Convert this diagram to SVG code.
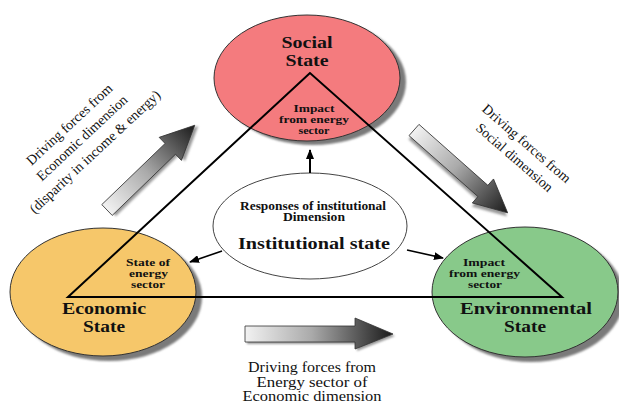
<svg xmlns="http://www.w3.org/2000/svg" width="619" height="405" viewBox="0 0 619 405">
<defs>
<style>
.sh{fill:#7a7a7a;filter:url(#blur)}
.st{stroke:#333;stroke-width:1}
.lbl{font-family:"Liberation Serif","Times New Roman",serif;font-weight:bold;fill:#111;text-anchor:middle}
.big{font-size:16px}
.sm{font-size:11px}
.drv{font-family:"Liberation Serif","Times New Roman",serif;font-size:14px;fill:#111;text-anchor:middle}
.conn{stroke:#000;stroke-width:2;fill:none}
.garrow{fill:url(#grad);stroke:#333;stroke-width:0.8}
.gshadow{fill:#999;filter:url(#blur)}
</style>
<filter id="blur" x="-20%" y="-20%" width="140%" height="140%"><feGaussianBlur stdDeviation="1.2"/></filter>
<linearGradient id="grad" x1="0" y1="0" x2="1" y2="0">
<stop offset="0" stop-color="#f2f2f2"/>
<stop offset="0.45" stop-color="#aaaaaa"/>
<stop offset="1" stop-color="#1a1a1a"/>
</linearGradient>
<marker id="ah" markerWidth="10" markerHeight="8" refX="9" refY="4" orient="auto" markerUnits="userSpaceOnUse">
<path d="M0,0 L10,4 L0,8 Z" fill="#000"/>
</marker>
</defs>

<g id="social">
<ellipse class="sh" cx="313" cy="82" rx="93" ry="63"/>
<ellipse class="st" cx="307" cy="78" rx="93" ry="63" fill="#f47b7e"/>
<text class="lbl big" x="307" y="48" textLength="51" lengthAdjust="spacingAndGlyphs">Social</text>
<text class="lbl big" x="307" y="66" textLength="43" lengthAdjust="spacingAndGlyphs">State</text>
<text class="lbl sm" x="314" y="112" textLength="41" lengthAdjust="spacingAndGlyphs">Impact</text>
<text class="lbl sm" x="314" y="123" textLength="70" lengthAdjust="spacingAndGlyphs">from energy</text>
<text class="lbl sm" x="314" y="134" textLength="31" lengthAdjust="spacingAndGlyphs">sector</text>
</g>

<g id="economic">
<ellipse class="sh" cx="109" cy="297" rx="93" ry="64"/>
<ellipse class="st" cx="103" cy="292" rx="93" ry="64" fill="#f6c76a"/>
<text class="lbl sm" x="148" y="266" textLength="44" lengthAdjust="spacingAndGlyphs">State of</text>
<text class="lbl sm" x="148.5" y="277" textLength="39" lengthAdjust="spacingAndGlyphs">energy</text>
<text class="lbl sm" x="148" y="288" textLength="34" lengthAdjust="spacingAndGlyphs">sector</text>
<text class="lbl big" x="104" y="314" textLength="84" lengthAdjust="spacingAndGlyphs">Economic</text>
<text class="lbl big" x="104" y="332" textLength="42" lengthAdjust="spacingAndGlyphs">State</text>
</g>

<g id="environmental">
<ellipse class="sh" cx="531" cy="297" rx="93" ry="65"/>
<ellipse class="st" cx="525" cy="292" rx="93" ry="65" fill="#88c98a"/>
<text class="lbl sm" x="484" y="266" textLength="42" lengthAdjust="spacingAndGlyphs">Impact</text>
<text class="lbl sm" x="484.5" y="277" textLength="71" lengthAdjust="spacingAndGlyphs">from energy</text>
<text class="lbl sm" x="485" y="288" textLength="34" lengthAdjust="spacingAndGlyphs">sector</text>
<text class="lbl big" x="526" y="314" textLength="132" lengthAdjust="spacingAndGlyphs">Environmental</text>
<text class="lbl big" x="525" y="332" textLength="42" lengthAdjust="spacingAndGlyphs">State</text>
</g>

<g id="institutional">
<ellipse cx="310" cy="226" rx="97" ry="53" fill="#fff" stroke="#444" stroke-width="1"/>
<text class="lbl" x="313" y="210" font-size="11.5" textLength="146" lengthAdjust="spacingAndGlyphs">Responses of institutional</text>
<text class="lbl" x="314" y="221" font-size="11.5" textLength="62" lengthAdjust="spacingAndGlyphs">Dimension</text>
<text class="lbl" x="314" y="249" font-size="17" textLength="152" lengthAdjust="spacingAndGlyphs">Institutional state</text>
</g>

<g id="connectors">
<path class="conn" d="M310,73 L68,297 L562,297 Z" stroke-linejoin="miter"/>
<line x1="310" y1="173" x2="310" y2="150" stroke="#000" stroke-width="2" marker-end="url(#ah)"/>
<line x1="222" y1="251" x2="190" y2="262" stroke="#000" stroke-width="1.6" marker-end="url(#ah)"/>
<line x1="407" y1="250" x2="443" y2="258" stroke="#000" stroke-width="1.6" marker-end="url(#ah)"/>
</g>

<g id="force-economic">
<g transform="translate(107,210) rotate(-44)">
<path class="gshadow" transform="translate(2,3)" d="M0,-7.5 L88,-7.5 L88,-16 L122,0 L88,16 L88,7.5 L0,7.5 Z"/>
<path class="garrow" d="M0,-7.5 L88,-7.5 L88,-16 L122,0 L88,16 L88,7.5 L0,7.5 Z"/>
</g>
<g transform="translate(82,138) rotate(-43)">
<text class="drv" x="0" y="-14">Driving forces from</text>
<text class="drv" x="0" y="4.5">Economic dimension</text>
<text class="drv" x="0" y="23.5">(disparity in income &amp; energy)</text>
</g>
</g>

<g id="force-social">
<g transform="translate(414,130) rotate(41.5)">
<path class="gshadow" transform="translate(2,3)" d="M0,-7.5 L92,-7.5 L92,-16 L125,0 L92,16 L92,7.5 L0,7.5 Z"/>
<path class="garrow" d="M0,-7.5 L92,-7.5 L92,-16 L125,0 L92,16 L92,7.5 L0,7.5 Z"/>
</g>
<g transform="translate(521,150) rotate(41)">
<text class="drv" x="0" y="-4">Driving forces from</text>
<text class="drv" x="0" y="14.5">Social dimension</text>
</g>
</g>

<g id="force-energy">
<path class="gshadow" transform="translate(2,2)" d="M245,326 L355,326 L355,318 L393,334 L355,349 L355,342 L245,342 Z"/>
<path class="garrow" d="M245,326 L355,326 L355,318 L393,334 L355,349 L355,342 L245,342 Z"/>
<text class="drv" x="312" y="372" font-size="12" textLength="128" lengthAdjust="spacingAndGlyphs">Driving forces from</text>
<text class="drv" x="312" y="386.5" font-size="12" textLength="111" lengthAdjust="spacingAndGlyphs">Energy sector of</text>
<text class="drv" x="312" y="401" font-size="12" textLength="139" lengthAdjust="spacingAndGlyphs">Economic dimension</text>
</g>
</svg>
